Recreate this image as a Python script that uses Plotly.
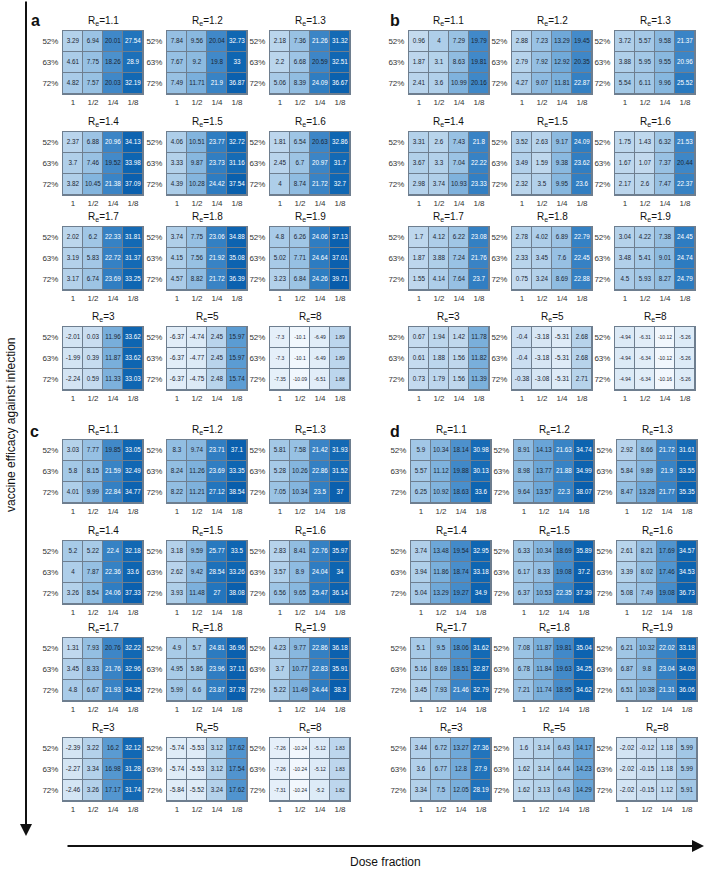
import plotly.graph_objects as go

W, H = 706, 869

re_labels = ["1.1", "1.2", "1.3", "1.4", "1.5", "1.6", "1.7", "1.8", "1.9", "3", "5", "8"]
dose_labels = ["1", "1/2", "1/4", "1/8"]
efficacy_labels = ["52%", "63%", "72%"]

a_values = [
    [[3.29, 6.94, 20.01, 27.54], [4.61, 7.75, 18.26, 28.9], [4.82, 7.57, 20.03, 32.19]],
    [[7.84, 9.56, 20.04, 32.73], [7.67, 9.2, 19.8, 33], [7.49, 11.71, 21.9, 36.87]],
    [[2.18, 7.36, 21.26, 31.32], [2.2, 6.68, 20.59, 32.51], [5.06, 8.39, 24.09, 36.67]],
    [[2.37, 6.88, 20.96, 34.13], [3.7, 7.46, 19.52, 33.98], [3.82, 10.45, 21.38, 37.09]],
    [[4.06, 10.51, 23.77, 32.72], [3.33, 9.87, 23.73, 31.16], [4.39, 10.28, 24.42, 37.54]],
    [[1.81, 6.54, 20.63, 32.86], [2.45, 6.7, 20.97, 31.7], [4, 8.74, 21.72, 32.7]],
    [[2.02, 6.2, 22.33, 31.81], [3.19, 5.83, 22.72, 31.37], [3.17, 6.74, 23.69, 33.25]],
    [[3.74, 7.75, 23.06, 34.88], [4.15, 7.56, 21.92, 35.08], [4.57, 8.82, 21.72, 36.39]],
    [[4.8, 6.26, 24.06, 37.13], [5.02, 7.71, 24.64, 37.01], [3.23, 6.84, 24.26, 39.71]],
    [[-2.01, 0.03, 11.96, 33.62], [-1.99, 0.39, 11.87, 33.62], [-2.24, 0.59, 11.33, 33.03]],
    [[-6.37, -4.74, 2.45, 15.97], [-6.37, -4.77, 2.45, 15.97], [-6.37, -4.75, 2.48, 15.74]],
    [[-7.3, -10.1, -6.49, 1.89], [-7.3, -10.1, -6.49, 1.89], [-7.35, -10.09, -6.51, 1.88]],
]

b_values = [
    [[0.96, 4, 7.29, 19.79], [1.87, 3.1, 8.63, 19.81], [2.41, 3.6, 10.99, 20.16]],
    [[2.88, 7.23, 13.29, 19.45], [2.79, 7.92, 12.92, 20.35], [4.27, 9.07, 11.81, 22.87]],
    [[3.72, 5.57, 9.58, 21.37], [3.88, 5.95, 9.55, 20.96], [5.54, 6.11, 9.96, 25.52]],
    [[3.31, 2.6, 7.43, 21.8], [3.67, 3.3, 7.04, 22.22], [2.98, 3.74, 10.93, 23.33]],
    [[3.52, 2.63, 9.17, 24.09], [3.49, 1.59, 9.38, 23.62], [2.32, 3.5, 9.95, 23.6]],
    [[1.75, 1.43, 6.32, 21.53], [1.67, 1.07, 7.37, 20.44], [2.17, 2.6, 7.47, 22.37]],
    [[1.7, 4.12, 6.22, 23.08], [1.87, 3.88, 7.24, 21.76], [1.55, 4.14, 7.64, 23.7]],
    [[2.78, 4.02, 6.89, 22.79], [2.33, 3.45, 7.6, 22.45], [0.75, 3.24, 8.69, 22.88]],
    [[3.04, 4.22, 7.38, 24.45], [3.48, 5.41, 9.01, 24.74], [4.5, 5.93, 8.27, 24.79]],
    [[0.67, 1.94, 1.42, 11.78], [0.61, 1.88, 1.56, 11.82], [0.73, 1.79, 1.56, 11.39]],
    [[-0.4, -3.18, -5.31, 2.68], [-0.4, -3.18, -5.31, 2.68], [-0.38, -3.08, -5.31, 2.71]],
    [[-4.94, -6.31, -10.12, -5.26], [-4.94, -6.34, -10.12, -5.26], [-4.94, -6.34, -10.16, -5.26]],
]

c_values = [
    [[3.03, 7.77, 19.85, 33.05], [5.8, 8.15, 21.59, 32.49], [4.01, 9.99, 22.84, 34.77]],
    [[8.3, 9.74, 23.71, 37.1], [8.24, 11.26, 23.69, 33.35], [8.22, 11.21, 27.12, 38.54]],
    [[5.81, 7.58, 21.42, 31.93], [5.28, 10.26, 22.86, 31.52], [7.05, 10.34, 23.5, 37]],
    [[5.2, 5.22, 22.4, 32.18], [4, 7.87, 22.36, 33.6], [3.26, 8.54, 24.06, 37.33]],
    [[3.18, 9.59, 25.77, 33.5], [2.62, 9.42, 28.54, 33.26], [3.93, 11.48, 27, 38.08]],
    [[2.83, 8.41, 22.76, 35.97], [3.57, 8.9, 24.04, 34], [6.56, 9.65, 25.47, 36.14]],
    [[1.31, 7.93, 20.76, 32.22], [3.45, 8.33, 21.76, 32.96], [4.8, 6.67, 21.93, 34.35]],
    [[4.9, 5.7, 24.81, 36.96], [4.95, 5.86, 23.96, 37.11], [5.99, 6.6, 23.87, 37.78]],
    [[4.23, 9.77, 22.86, 36.18], [3.7, 10.77, 22.83, 35.91], [5.22, 11.49, 24.44, 38.3]],
    [[-2.39, 3.22, 16.2, 32.12], [-2.27, 3.34, 16.98, 31.28], [-2.46, 3.26, 17.17, 31.74]],
    [[-5.74, -5.53, 3.12, 17.62], [-5.74, -5.53, 3.12, 17.54], [-5.84, -5.52, 3.24, 17.62]],
    [[-7.26, -10.24, -5.12, 1.83], [-7.26, -10.24, -5.12, 1.83], [-7.31, -10.24, -5.2, 1.82]],
]

d_values = [
    [[5.9, 10.34, 18.14, 30.98], [5.57, 11.12, 19.88, 30.13], [6.25, 10.92, 18.63, 33.6]],
    [[8.91, 14.13, 21.63, 34.74], [8.98, 13.77, 21.88, 34.99], [9.64, 13.57, 22.3, 38.07]],
    [[2.92, 8.66, 21.72, 31.61], [5.84, 9.89, 21.9, 33.55], [8.47, 13.28, 21.77, 35.35]],
    [[3.74, 13.48, 19.54, 32.95], [3.94, 11.86, 18.74, 33.18], [5.04, 13.29, 19.27, 34.9]],
    [[6.33, 10.34, 18.69, 35.89], [6.17, 8.33, 19.08, 37.2], [6.37, 10.53, 22.35, 37.39]],
    [[2.61, 8.21, 17.69, 34.57], [3.39, 8.02, 17.46, 34.53], [5.08, 7.49, 19.08, 36.73]],
    [[5.1, 9.5, 18.06, 31.62], [5.16, 8.69, 18.51, 32.87], [3.45, 7.93, 21.46, 32.79]],
    [[7.08, 11.87, 19.81, 35.04], [6.78, 11.84, 19.63, 34.25], [7.21, 11.74, 18.95, 34.62]],
    [[6.21, 10.32, 22.02, 33.18], [6.87, 9.8, 23.04, 34.09], [6.51, 10.38, 21.31, 36.06]],
    [[3.44, 6.72, 13.27, 27.36], [3.6, 6.77, 12.8, 27.9], [3.34, 7.5, 12.05, 28.19]],
    [[1.6, 3.14, 6.43, 14.17], [1.62, 3.14, 6.44, 14.23], [1.62, 3.13, 6.43, 14.29]],
    [[-2.02, -0.12, 1.18, 5.99], [-2.02, -0.15, 1.18, 5.99], [-2.02, -0.15, 1.12, 5.91]],
]

panels = {"a": a_values, "b": b_values, "c": c_values, "d": d_values}

# ---- styling / geometry ----
ZMIN, ZMAX = -10.5, 40.0
stops = [(-10.5, "#f3f8fd"), (-6.4, "#e1edf8"), (-2.0, "#d3e4f3"), (0.0, "#c9ddf0"),
         (3.3, "#b3d1ea"), (7.0, "#9bc3e4"), (12.0, "#78aedb"), (16.0, "#5b9cd3"),
         (20.0, "#4088c8"), (27.5, "#2174bc"), (33.0, "#0f66b2"), (40.0, "#085cab")]
colorscale = [[(v - ZMIN) / (ZMAX - ZMIN), c] for v, c in stops]

FONT = "Liberation Sans, Arial, sans-serif"
GRID = "#6e7e8f"
HM_W, HM_H = 80, 63
col_x = {"a": [63, 167, 270], "b": [409, 512, 615], "c": [63, 167, 270], "d": [411, 514, 617]}
row_y = {"a": [31, 132, 227, 327], "b": [31, 132, 227, 327],
         "c": [440, 541, 638, 738], "d": [440, 541, 638, 738]}
letter_pos = {"a": (35, 21), "b": (395, 21), "c": (34, 431), "d": (395, 431)}

fig = go.Figure()
layout = {}
annotations = []
n = 0
for p, mats in panels.items():
    for k, mat in enumerate(mats):
        n += 1
        r, c = divmod(k, 3)
        x0 = col_x[p][c]
        y0 = row_y[p][r]
        xa = "x" if n == 1 else f"x{n}"
        ya = "y" if n == 1 else f"y{n}"
        fig.add_trace(go.Heatmap(
            z=mat, x=dose_labels, y=efficacy_labels,
            zmin=ZMIN, zmax=ZMAX, colorscale=colorscale, showscale=False,
            xgap=1, ygap=1, xaxis=xa, yaxis=ya, hoverinfo="skip"))
        xs, ys, ts, cs = [], [], [], []
        for i, row in enumerate(mat):
            for j, v in enumerate(row):
                xs.append(dose_labels[j])
                ys.append(efficacy_labels[i])
                ts.append(f"{v:g}")
                cs.append("#ffffff" if v > 20.9 else "#1c2733")
        small = (re_labels[k] == "8" and p != "d")
        fig.add_trace(go.Scatter(
            x=xs, y=ys, text=ts, mode="text",
            textfont=dict(family=FONT, size=5 if small else 6.3, color=cs),
            xaxis=xa, yaxis=ya, hoverinfo="skip", showlegend=False))
        kx = "xaxis" if n == 1 else f"xaxis{n}"
        ky = "yaxis" if n == 1 else f"yaxis{n}"
        layout[kx] = dict(domain=[x0 / W, (x0 + HM_W) / W], anchor=ya,
                          type="category", categoryorder="array", categoryarray=dose_labels,
                          range=[-0.5, 3.5], showgrid=False, zeroline=False,
                          showline=True, mirror=True, linecolor=GRID, linewidth=1,
                          ticks="",
                          tickfont=dict(family=FONT, size=8, color="#333333"),
                          fixedrange=True)
        layout[ky] = dict(domain=[1 - (y0 + HM_H) / H, 1 - y0 / H], anchor=xa,
                          type="category", categoryorder="array", categoryarray=efficacy_labels,
                          range=[2.5, -0.5], showgrid=False, zeroline=False,
                          showline=True, mirror=True, linecolor=GRID, linewidth=1,
                          ticks="outside", ticklen=2, tickcolor="rgba(0,0,0,0)",
                          tickfont=dict(family=FONT, size=8, color="#333333"),
                          fixedrange=True)
        annotations.append(dict(
            text=f"R<sub>e</sub>=" + re_labels[k],
            xref=f"{xa} domain", yref=f"{ya} domain", x=0.5, y=1,
            xanchor="center", yanchor="bottom", yshift=2, showarrow=False,
            font=dict(family=FONT, size=10, color="#111111")))
    lx, ly = letter_pos[p]
    annotations.append(dict(text=f"<b>{p}</b>", xref="paper", yref="paper",
                            x=lx / W, y=1 - ly / H, xanchor="center", yanchor="middle",
                            showarrow=False, font=dict(family=FONT, size=16, color="#111111")))

# axis arrows and labels
annotations.append(dict(x=26 / W, y=1 - 836 / H, ax=0, ay=-836,
                        xref="paper", yref="paper", axref="pixel", ayref="pixel",
                        text="", showarrow=True, arrowhead=2, arrowsize=1.2,
                        arrowwidth=2, arrowcolor="#111111"))
annotations.append(dict(x=704 / W, y=1 - 846 / H, ax=-638, ay=0,
                        xref="paper", yref="paper", axref="pixel", ayref="pixel",
                        text="", showarrow=True, arrowhead=2, arrowsize=1.2,
                        arrowwidth=2, arrowcolor="#111111"))
annotations.append(dict(text="vaccine efficacy against infection", xref="paper", yref="paper",
                        x=11 / W, y=1 - 425 / H, textangle=-90, showarrow=False,
                        xanchor="center", yanchor="middle",
                        font=dict(family=FONT, size=12, color="#111111")))
annotations.append(dict(text="Dose fraction", xref="paper", yref="paper",
                        x=385 / W, y=1 - 862 / H, showarrow=False,
                        xanchor="center", yanchor="middle",
                        font=dict(family=FONT, size=12, color="#111111")))

fig.update_layout(width=W, height=H, margin=dict(l=0, r=0, t=0, b=0),
                  paper_bgcolor="white", plot_bgcolor=GRID, showlegend=False,
                  annotations=annotations, **layout)
fig.write_html("out.html", config={"displayModeBar": False},
               post_script="document.body.style.margin='0';document.body.style.overflow='hidden';")
